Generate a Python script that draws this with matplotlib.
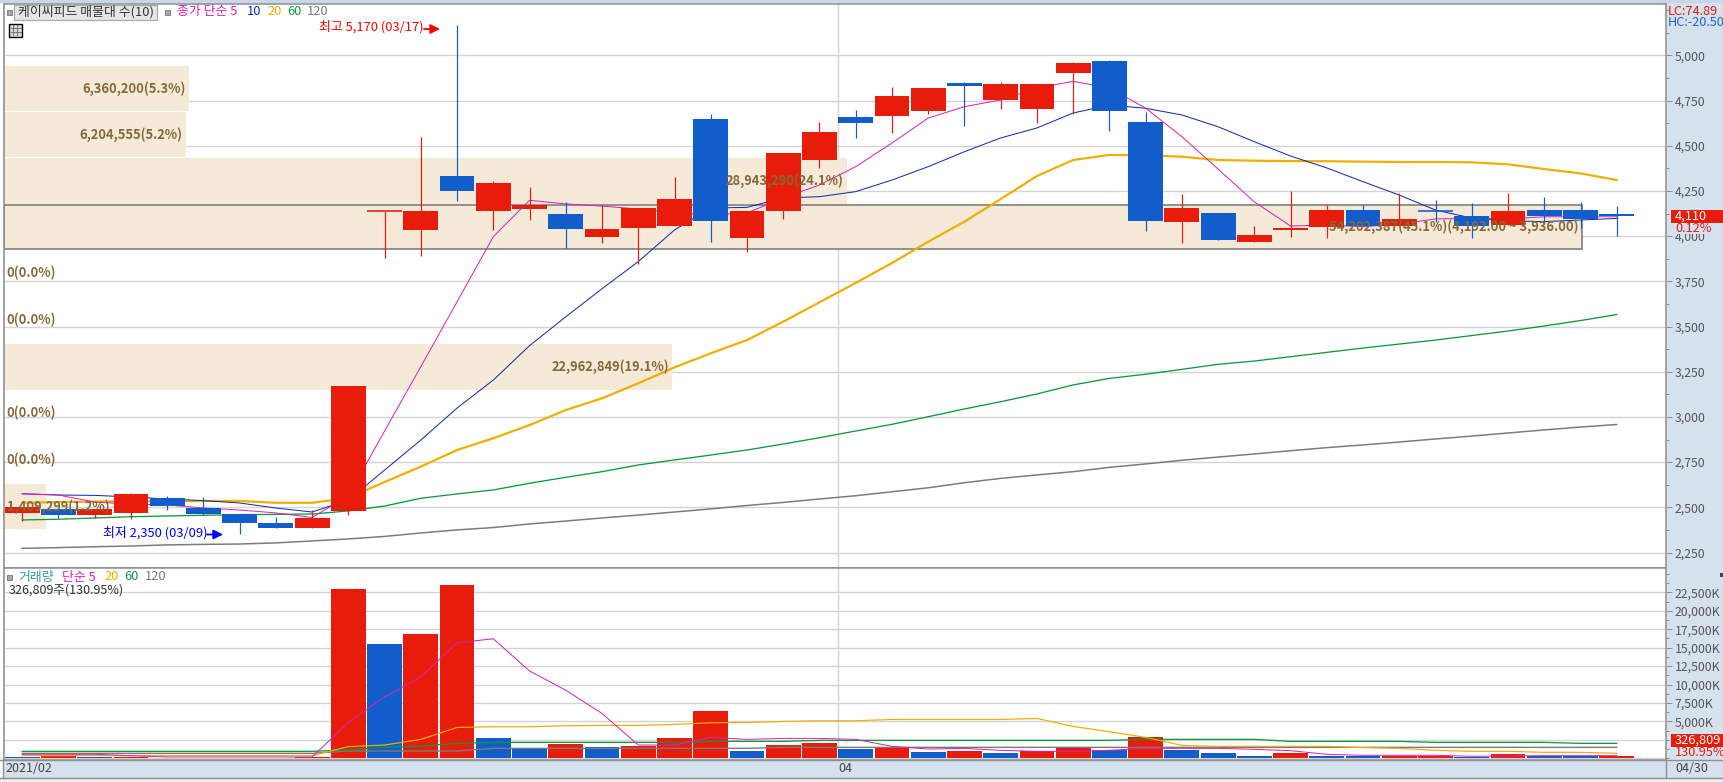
import matplotlib
matplotlib.use("Agg")
import matplotlib.pyplot as plt
from matplotlib.patches import Rectangle, FancyArrowPatch
import numpy as np

plt.rcParams['font.family'] = ['Noto Sans CJK KR', 'DejaVu Sans']

# ---------------- data ----------------
opens = [2470,2490,2459,2470,2551,2496,2463,2413,2386,2480,4137,4034,4332,4139,4150,4122,3995,4045,4056,4648,3990,4139,4421,
         4659,4664,4692,4847,4753,4703,4902,4968,4631,4078,4128,3967,4034,4050,4144,4056,4144,4111,4061,4144,4144,4125]
closes = [2502,2459,2491,2574,2507,2463,2413,2386,2441,3170,4137,4139,4249,4294,4172,4039,4039,4155,4205,4084,4139,4460,4576,
          4626,4775,4819,4830,4841,4841,4957,4692,4084,4155,3978,4006,4045,4144,4056,4095,4139,4056,4139,4111,4095,4110]
highs = [2502,2490,2491,2579,2562,2557,2463,2446,2485,3170,4137,4548,5170,4305,4272,4189,4172,4155,4327,4675,4139,4460,4631,
         4697,4825,4819,4852,4852,4841,4963,4974,4686,4233,4128,4056,4249,4172,4172,4238,4200,4183,4238,4216,4189,4167]
lows = [2426,2442,2442,2437,2485,2457,2350,2386,2386,2457,3880,3890,4194,4034,4089,3934,3962,3846,4056,3967,3912,4095,4377,
        4543,4570,4675,4609,4703,4626,4675,4581,4028,3962,3978,3967,3995,3990,4056,4056,4078,3990,4061,4078,4045,4001]

ma5 = [2574,2568,2529,2518,2513,2496,2485,2469,2444,2563,2922,3278,3637,3997,4198,4178,4166,4150,4130,4117,4128,4211,4283,
       4384,4515,4653,4716,4753,4819,4856,4819,4708,4550,4371,4189,4056,4061,4052,4067,4095,4098,4095,4107,4107,4107]
ma10 = [2575,2568,2566,2557,2546,2537,2524,2496,2474,2540,2706,2872,3049,3204,3394,3554,3709,3859,4034,4155,4159,4211,4218,
        4246,4310,4384,4467,4543,4598,4681,4725,4707,4670,4605,4522,4443,4377,4301,4227,4144,4100,4085,4080,4089,4098]
ma20 = [2525,2529,2531,2535,2531,2535,2535,2525,2525,2552,2640,2725,2817,2882,2955,3038,3103,3186,3274,3352,3425,3527,3634,
        3741,3851,3969,4080,4205,4332,4421,4449,4447,4439,4421,4417,4415,4414,4412,4410,4410,4408,4397,4371,4347,4310]
ma60 = [2430,2434,2441,2448,2452,2456,2459,2461,2463,2480,2507,2550,2574,2596,2633,2666,2697,2734,2762,2789,2817,2850,2885,
        2922,2959,3001,3044,3084,3127,3177,3213,3236,3263,3291,3309,3333,3357,3381,3403,3425,3450,3475,3503,3533,3566]
ma120 = [2273,2277,2282,2286,2292,2295,2297,2303,2314,2325,2339,2358,2375,2388,2408,2424,2441,2457,2474,2491,2510,2527,2546,
         2564,2586,2608,2636,2660,2679,2697,2721,2740,2760,2778,2795,2813,2830,2845,2861,2878,2894,2911,2928,2944,2958]

volume = [225,360,180,180,90,90,90,90,180,23000,15435,16785,23535,2745,1350,1935,1530,1665,2745,6390,990,1800,2070,
          1260,1440,855,990,720,990,1400,1125,2880,1125,720,315,720,315,315,315,315,180,585,315,315,327]
vol_up = [0,1,0,1,0,1,1,0,1,1,0,1,1,0,0,1,0,1,1,1,0,1,1,0,1,0,1,0,1,1,0,1,0,0,0,1,0,0,1,1,0,1,0,0,1]
vma5 = [540,540,540,360,180,180,180,180,180,4860,8325,11025,15660,16200,11835,9225,6075,1800,1800,2835,2565,2700,2700,
        2565,1620,1260,1350,1080,945,945,1080,1350,1350,1350,1215,1035,540,405,405,405,270,315,360,360,360]
vma20 = [360,360,360,360,360,360,360,360,360,1575,1800,2565,4185,4275,4275,4410,4455,4455,4590,4815,4860,4995,5085,
         5085,5265,5265,5265,5265,5400,4320,3600,2835,1755,1620,1620,1620,1620,1450,1350,1080,945,945,810,810,675]
vma60 = [945,945,945,945,945,945,945,945,945,1125,1485,1665,2025,2160,2160,2160,2160,2160,2160,2295,2295,2295,2430,
         2430,2430,2430,2430,2430,2430,2430,2430,2565,2565,2565,2565,2295,2295,2295,2295,2160,2160,2160,2160,2025,2025]
vma120 = [675,675,675,675,675,675,675,675,675,990,990,990,990,1350,1350,1350,1350,1350,1350,1350,1350,1485,1485,
          1485,1485,1485,1485,1485,1485,1485,1485,1485,1485,1485,1485,1485,1485,1485,1485,1485,1485,1485,1485,1485,1485]

profile_low = [4692,4437,4178,3930,3149,2380]
profile_high = [4941,4686,4432,4172,3403,2629]
profile_pct = [5.3,5.2,24.1,45.1,19.1,1.2]
profile_labels = ['6,360,200(5.3%)','6,204,555(5.2%)','28,943,290(24.1%)',
                  '54,202,387(45.1%)(4,192.00 ~ 3,936.00)','22,962,849(19.1%)','1,409,299(1.2%)']
empty_label_prices = [3796,3536,3022,2762]
price_ticks = list(range(2250,5001,250))
vol_ticks = list(range(2500,22501,2500))
vol_labelled = list(range(5000,22501,2500))
month_start = 23

# ---------------- layout ----------------
W,H = 1724,782
X0,X1 = 4,1666
def fx(p): return p/W
def fy(p): return 1-p/H
RED,BLUE = '#E81C0A','#125DCC'
BEIGE,BROWN = '#F5E9D8','#846A38'
GRID,EDGE = '#D4D4D4','#8E8E8E'
PINK,NAVY,ORANGE,GREEN,GRAY = '#DA22B8','#0A2CA8','#F0AE00','#0A9A3C','#7A7A7A'
PANEL = '#D6E1EE'
PX = 0.72

fig = plt.figure(figsize=(W/100,H/100),dpi=100,facecolor=PANEL)
fig.add_artist(Rectangle((0,0),fx(3),fy(3),transform=fig.transFigure,fc='white',ec='none',zorder=-5))
fig.add_artist(Rectangle((0,0),1,fy(778),transform=fig.transFigure,fc='#EFEFEF',ec='none',zorder=-4))
fig.add_artist(Rectangle((fx(0),fy(3)),1,3/H,transform=fig.transFigure,fc='#C7D6EA',ec='none',zorder=-4))

def make_ax(top,bottom):
    return fig.add_axes([fx(X0),fy(bottom),fx(X1-X0),(bottom-top)/H])
ax = make_ax(4,568)
av = make_ax(568,760)
xs = np.arange(len(opens))
xlim = ((X0-22.2)/36.24,(X1-22.2)/36.24)
for a in (ax,av):
    a.set_xlim(*xlim)
    a.set_xticks([])
    a.set_axisbelow(True)
    for s in a.spines.values():
        s.set_color(EDGE); s.set_linewidth(1.1)
    a.axvline(month_start-0.5,color=GRID,lw=1.4*PX,zorder=1)
    a.yaxis.tick_right()
    a.tick_params(axis='y',which='major',length=6*PX,width=PX,color=EDGE,pad=2,labelsize=8.8,labelcolor='#555555')
    a.tick_params(axis='y',which='minor',length=3*PX,width=PX,color=EDGE)

ax.set_yticks(price_ticks)
ax.set_yticklabels([f'{t:,}' for t in price_ticks])
ax.set_yticks(np.arange(2250,5251,125),minor=True)
for t in price_ticks:
    ax.axhline(t,color=GRID,lw=1.4*PX,zorder=1)

av.set_yticks(vol_labelled)
av.set_yticks(np.arange(0,25001,1250),minor=True)
av.set_yticklabels([f'{t:,}K' for t in vol_labelled])
for t in [0]+vol_ticks:
    av.axhline(t,color=GRID,lw=1.4*PX,zorder=1)

# limits go last: ticks would widen them otherwise
ax.set_ylim(2164.3,5283.8)
av.set_ylim(-230,25793)

# volume profile boxes
LABEL = dict(color=BROWN,fontsize=9.3,fontweight='bold',va='center',zorder=8)
full_w = (1582.5-X0)/36.24/45.1
for lo,hi,pct,lab in zip(profile_low,profile_high,profile_pct,profile_labels):
    w = pct*full_w
    main = pct==max(profile_pct)
    ax.add_patch(Rectangle((xlim[0],lo),w,hi-lo,fc=BEIGE,ec=GRAY if main else 'none',lw=1.6*PX if main else 0,zorder=2))
    if pct<2:
        ax.text(xlim[0]+0.08,(lo+hi)/2,lab,ha='left',**LABEL)
    else:
        ax.text(xlim[0]+w-0.1,(lo+hi)/2,lab,ha='right',**LABEL)
for p in empty_label_prices:
    ax.text(xlim[0]+0.07,p,'0(0.0%)',ha='left',**LABEL)

# moving averages
for vals,c,lw in [(ma120,GRAY,1.5),(ma60,GREEN,1.3),(ma20,ORANGE,2.2),(ma10,NAVY,1.0),(ma5,PINK,1.0)]:
    ax.plot(xs,vals,color=c,lw=lw*PX,zorder=3,solid_joinstyle='round')

# candles
for i,(o,c,h,l) in enumerate(zip(opens,closes,highs,lows)):
    col = RED if c>=o else BLUE
    ax.vlines(i,l,h,color=col,lw=1.2*PX,zorder=4)
    if abs(c-o)<8:
        ax.hlines((o+c)/2,i-0.48,i+0.48,color=col,lw=1.6*PX,zorder=4.5)
    else:
        ax.add_patch(Rectangle((i-0.48,min(o,c)),0.96,abs(c-o),fc=col,ec='none',zorder=4.5,antialiased=False))

# volume
av.bar(xs,volume,width=0.96,color=[RED if u else BLUE for u in vol_up],zorder=2,antialiased=False,linewidth=0)
for vals,c,lw in [(vma120,GRAY,1.4),(vma60,GREEN,1.3),(vma20,ORANGE,1.2),(vma5,PINK,1.0)]:
    av.plot(xs,vals,color=c,lw=lw*PX,zorder=3)

# free text
def T(x,y,s,color,size=9.5,ha='left',**kw):
    return fig.text(fx(x),fy(y),s,color=color,fontsize=size,ha=ha,va='center',zorder=20,**kw)
def square(x,y,w=5,h=5):
    fig.add_artist(Rectangle((fx(x),fy(y+h)),w/W,h/H,transform=fig.transFigure,fc='#A8A8A8',ec='#777777',lw=0.6,zorder=19))

square(7,10)
fig.add_artist(Rectangle((fx(14.5),fy(19.5)),143/W,14.5/H,transform=fig.transFigure,fc='#E6E6E6',ec='#ABABAB',lw=0.9,zorder=18))
T(18,11.6,'케이씨피드 매물대 수(10)','#333333',9.3)
square(165,10)
legend_main = [(177,'종가 단순 5',PINK),(247,'10',NAVY),(267,'20',ORANGE),(287,'60',GREEN),(307,'120',GRAY)]
for x,s,c in legend_main:
    T(x,11.6,s,c,9.3)
# table icon
fig.add_artist(Rectangle((fx(9.5),fy(37)),13/W,13.5/H,transform=fig.transFigure,fc='#D8D8D8',ec='black',lw=1,zorder=18))
for yy in (28,32):
    fig.add_artist(plt.Line2D([fx(11),fx(21)],[fy(yy)]*2,color='#666666',lw=0.6,zorder=19))
for xx in (13,17):
    fig.add_artist(plt.Line2D([fx(xx)]*2,[fy(25),fy(35)],color='#666666',lw=0.6,zorder=19))

T(319.5,27,'최고 5,170 (03/17)','#FF0000',9.3)
T(103,533,'최저 2,350 (03/09)','#0000FF',9.3)
for (a,b,y,c) in [(424,440,29,'#FF0000'),(207,223,534.5,'#0000FF')]:
    fig.add_artist(FancyArrowPatch((fx(a),fy(y)),(fx(b),fy(y)),transform=fig.transFigure,arrowstyle='-|>',
                                   mutation_scale=14,color=c,lw=1.3,zorder=20,shrinkA=0,shrinkB=0))

square(7,574.5)
legend_vol = [(18.4,'거래량','#3A9A9A'),(62,'단순 5',PINK),(104,'20',ORANGE),(124,'60',GREEN),(145,'120',GRAY)]
for x,s,c in legend_vol:
    T(x,577,s,c,9.3)
T(8.4,590,'326,809주(130.95%)','#333333',9)

# right panel
T(1667.5,11.5,'LC:74.89','#E81C0A',9.2)
T(1667.5,23,'HC:-20.50','#1E66D0',9.2)
for (top,bot,val,pct,pcty,maskh) in [(210,222.7,'4,110','0.12%',228,11),(734,746.7,'326,809','130.95%',752,11)]:
    fig.add_artist(Rectangle((fx(1672),fy(bot+maskh)),(W-1672)/W,maskh/H,transform=fig.transFigure,fc=PANEL,ec='none',zorder=18))
    fig.add_artist(Rectangle((fx(1671),fy(bot)),(W-1671)/W,(bot-top)/H,transform=fig.transFigure,fc=RED,ec='none',zorder=19))
    T(1675,(top+bot)/2,val,'white',9.2)
    T(1675,pcty,pct,'#E81C0A',9.2)

# x band
T(5.7,768.5,'2021/02','#444444',9)
T(838,768.5,'04','#444444',9)
T(1675,768.5,'04/30','#444444',9)
for yy in (760,778):
    fig.add_artist(plt.Line2D([0,1],[fy(yy)]*2,color=EDGE,lw=1,zorder=10))
fig.add_artist(plt.Line2D([fx(X1)]*2,[fy(760),fy(778)],color=EDGE,lw=1,zorder=10))
fig.add_artist(plt.Line2D([fx(3.5)]*2,[fy(760),fy(778)],color=EDGE,lw=1,zorder=10))
fig.add_artist(Rectangle((fx(1720),fy(577)),4/W,4/H,transform=fig.transFigure,fc='#444444',ec='none',zorder=12))

fig.savefig('out.png',dpi=100,facecolor=fig.get_facecolor())
